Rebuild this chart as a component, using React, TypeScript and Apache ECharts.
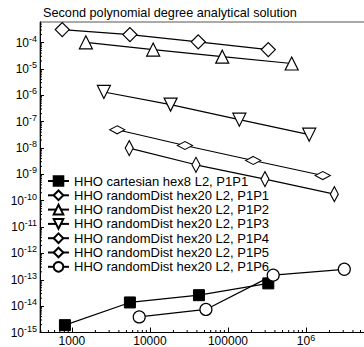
import React, { useEffect, useRef } from 'react';
import * as echarts from 'echarts';

const FONT = '"Liberation Sans", Arial, Helvetica, sans-serif';

const seriesNames = [
  'HHO cartesian hex8 L2, P1P1',
  'HHO randomDist hex20 L2, P1P1',
  'HHO randomDist hex20 L2, P1P2',
  'HHO randomDist hex20 L2, P1P3',
  'HHO randomDist hex20 L2, P1P4',
  'HHO randomDist hex20 L2, P1P5',
  'HHO randomDist hex20 L2, P1P6',
];

const cartesianP1P1X = [814, 5540, 42500, 329000];
const cartesianP1P1Y = [1.9e-15, 1.38e-14, 2.6e-14, 7.3e-14];

const randomP1P1X = [752, 5540, 41600, 329000];
const randomP1P1Y = [3.1e-4, 2.0e-4, 1.06e-4, 5.4e-5];

const randomP1P2X = [1510, 11000, 84500, 656000];
const randomP1P2Y = [1.02e-4, 5.4e-5, 2.9e-5, 1.6e-5];

const randomP1P3X = [2570, 18400, 140000, 1100000];
const randomP1P3Y = [1.33e-6, 4.4e-7, 1.18e-7, 3.2e-8];

const randomP1P4X = [3810, 28100, 211000, 1640000];
const randomP1P4Y = [4.9e-8, 1.24e-8, 3.35e-9, 9.0e-10];

const randomP1P5X = [5430, 38900, 298000, 2310000];
const randomP1P5Y = [9.9e-9, 2.3e-9, 6.6e-10, 1.77e-10];

const randomP1P6X = [7290, 52200, 380000, 3100000];
const randomP1P6Y = [3.9e-15, 7.5e-15, 1.5e-13, 2.5e-13];

const X_MIN = 390;
const X_MAX = 1e7;
const Y_MIN = 1e-15;
const Y_MAX = 6e-4;

const zip = (xs: number[], ys: number[]) => xs.map((x, i) => [x, ys[i]]);

const isPow = (v: number) => {
  const l = Math.log10(v);
  return Math.abs(l - Math.round(l)) < 1e-6;
};

export default function App() {
  const ref = useRef<HTMLDivElement>(null);
  useEffect(() => {
    document.body.style.margin = '0';
    if (!ref.current) return;
    const chart = echarts.init(ref.current, undefined, { renderer: 'svg' });

    const xMinor: number[][] = [];
    for (let k = 2; k <= 6; k++)
      for (let m = 2; m <= 9; m++) {
        const v = m * Math.pow(10, k);
        if (v > X_MIN && v < X_MAX) xMinor.push([v, Y_MIN]);
      }
    const yMinor: number[][] = [];
    for (let k = -15; k <= -4; k++)
      for (let m = 2; m <= 9; m++) {
        const v = m * Math.pow(10, k);
        if (v > Y_MIN && v < Y_MAX) yMinor.push([X_MIN, v]);
      }

    const lineBase = (name: string, data: number[][], symbol: string, size: any, extra: any = {}) => ({
      name,
      type: 'line',
      data,
      symbol,
      symbolSize: size,
      showAllSymbol: true,
      lineStyle: { color: '#000', width: 1.2 },
      itemStyle: { color: '#fff', borderColor: '#000', borderWidth: 1.2 },
      z: 3,
      ...extra,
    });

    const supRichY = {
      b: { fontFamily: FONT, fontSize: 12, color: '#000' },
      s: { fontFamily: FONT, fontSize: 9, color: '#000', padding: [0, 0, 8, 0] },
    };
    const supRichX = {
      b: { fontFamily: FONT, fontSize: 12, color: '#000', lineHeight: 12 },
      s: { fontFamily: FONT, fontSize: 9, color: '#000', lineHeight: 9, padding: [0, 0, 6, 0] },
    };

    const option: any = {
      animation: false,
      title: {
        text: 'Second polynomial degree analytical solution',
        left: 38,
        top: 1,
        textStyle: { fontFamily: FONT, fontSize: 12.7, fontWeight: 'normal', color: '#000' },
      },
      grid: {
        left: 40,
        top: 22,
        right: -20,
        bottom: 14.5,
        show: true,
        borderColor: '#555',
        borderWidth: 1,
        containLabel: false,
        outerBoundsMode: 'none',
      },
      legend: {
        orient: 'vertical',
        left: 42,
        top: 169.5,
        itemWidth: 21,
        itemHeight: 12,
        itemGap: 1.3,
        textStyle: { fontFamily: FONT, fontSize: 13, color: '#000' },
        data: seriesNames,
      },
      xAxis: {
        type: 'log',
        min: X_MIN,
        max: X_MAX,
        splitLine: { show: false },
        axisLine: { lineStyle: { color: '#000', width: 1 } },
        axisTick: { inside: true, length: 5, interval: 0, lineStyle: { color: '#000' } },
        axisLabel: {
          margin: 2,
          interval: 0,
          hideOverlap: false,
          fontFamily: FONT,
          fontSize: 12,
          lineHeight: 12,
          color: '#000',
          showMinLabel: false,
          showMaxLabel: false,
          formatter: (v: number) => {
            if (!isPow(v)) return '';
            const e = Math.round(Math.log10(v));
            if (e >= 6) return `{b|10}{s|${e}}`;
            return String(Math.round(v));
          },
          rich: supRichX,
        },
      },
      yAxis: {
        type: 'log',
        min: Y_MIN,
        max: Y_MAX,
        interval: 1,
        splitLine: { show: false },
        axisLine: { lineStyle: { color: '#000', width: 1 } },
        axisTick: { inside: true, length: 4, interval: 0, lineStyle: { color: '#000' } },
        axisLabel: {
          margin: 3,
          interval: 0,
          hideOverlap: false,
          fontFamily: FONT,
          fontSize: 12,
          color: '#000',
          showMaxLabel: false,
          formatter: (v: number) => {
            if (!isPow(v)) return '';
            const e = Math.round(Math.log10(v));
            return `{b|10}{s|${e}}`;
          },
          rich: supRichY,
        },
      },
      series: [
        lineBase(seriesNames[0], zip(cartesianP1P1X, cartesianP1P1Y), 'rect', 11, {
          itemStyle: { color: '#000', borderColor: '#000', borderWidth: 1 },
        }),
        lineBase(seriesNames[1], zip(randomP1P1X, randomP1P1Y), 'diamond', 14),
        lineBase(seriesNames[2], zip(randomP1P2X, randomP1P2Y), 'triangle', 13),
        lineBase(seriesNames[3], zip(randomP1P3X, randomP1P3Y), 'triangle', 13, { symbolRotate: 180 }),
        lineBase(seriesNames[4], zip(randomP1P4X, randomP1P4Y), 'diamond', [15, 8]),
        lineBase(seriesNames[5], zip(randomP1P5X, randomP1P5Y), 'diamond', [8, 15]),
        lineBase(seriesNames[6], zip(randomP1P6X, randomP1P6Y), 'circle', 12),
        {
          type: 'custom',
          silent: true,
          clip: false,
          data: xMinor,
          renderItem: (_p: any, api: any) => {
            const pt = api.coord([api.value(0), api.value(1)]);
            return {
              type: 'line',
              shape: { x1: pt[0], y1: pt[1], x2: pt[0], y2: pt[1] - 2.5 },
              style: { stroke: '#000', lineWidth: 1 },
            };
          },
        },
        {
          type: 'custom',
          silent: true,
          clip: false,
          data: yMinor,
          renderItem: (_p: any, api: any) => {
            const pt = api.coord([api.value(0), api.value(1)]);
            return {
              type: 'line',
              shape: { x1: pt[0], y1: pt[1], x2: pt[0] + 2, y2: pt[1] },
              style: { stroke: '#000', lineWidth: 1 },
            };
          },
        },
      ],
    };
    chart.setOption(option);
    return () => chart.dispose();
  }, []);
  return <div ref={ref} style={{ width: 364, height: 347 }} />;
}
